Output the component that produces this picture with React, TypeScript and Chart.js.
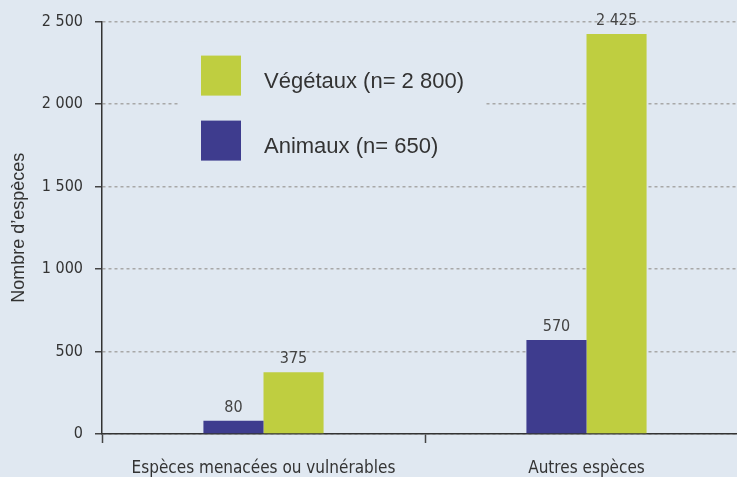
import React, { useEffect, useRef } from "react";
import { Chart, registerables } from "chart.js";

Chart.register(...registerables);

const categories = ["Espèces menacées ou vulnérables", "Autres espèces"];
const animaux = [80, 570];
const vegetaux = [375, 2425];
const seriesLabels = ["Animaux (n= 650)", "Végétaux (n= 2 800)"];
const yTicks = [0, 500, 1000, 1500, 2000, 2500];
const yTitle = "Nombre d’espèces";

const BG = "#e0e8f1";
const BLUE = "#3e3c8e";
const GREEN = "#bfce40";
const TEXT = "#333333";
const NARROW = "'Liberation Sans Narrow', 'DejaVu Sans Condensed', 'Liberation Sans', sans-serif";
const REGULAR = "'Liberation Sans', Arial, sans-serif";

const fmt = (v: number) => {
  const s = String(Math.round(v));
  return s.replace(/\B(?=(\d{3})+(?!\d))/g, " ");
};

const bgPlugin = {
  id: "bg",
  beforeDraw(chart: any) {
    const ctx = chart.ctx;
    ctx.save();
    ctx.fillStyle = BG;
    ctx.fillRect(0, 0, chart.width, chart.height);
    ctx.restore();
  },
};

const legendPlugin = {
  id: "customLegend",
  beforeDatasetsDraw(chart: any) {
    const ctx = chart.ctx;
    const a = chart.chartArea;
    const x0 = a.left + 76;
    ctx.save();
    ctx.fillStyle = BG;
    ctx.fillRect(x0, a.top + 20, 307, 132);
    const items = [
      { color: GREEN, label: seriesLabels[1], y: a.top + 34 },
      { color: BLUE, label: seriesLabels[0], y: a.top + 99 },
    ];
    ctx.font = "22px " + REGULAR;
    ctx.textBaseline = "alphabetic";
    ctx.textAlign = "left";
    for (const it of items) {
      ctx.fillStyle = it.color;
      ctx.fillRect(x0 + 23, it.y, 40, 40);
      ctx.fillStyle = TEXT;
      ctx.fillText(it.label, x0 + 86, it.y + 32);
    }
    ctx.restore();
  },
};

const valuePlugin = {
  id: "values",
  afterDatasetsDraw(chart: any) {
    const ctx = chart.ctx;
    ctx.save();
    ctx.font = "16px " + NARROW;
    ctx.fillStyle = "#444444";
    ctx.textAlign = "center";
    ctx.textBaseline = "middle";
    chart.data.datasets.forEach((ds: any, i: number) => {
      const meta = chart.getDatasetMeta(i);
      meta.data.forEach((el: any, j: number) => {
        ctx.fillText(fmt(ds.data[j]), el.x, el.y - 13);
      });
    });
    ctx.restore();
  },
};

export default function App() {
  const ref = useRef<HTMLCanvasElement | null>(null);

  useEffect(() => {
    document.body.style.overflow = "hidden";
    document.body.style.margin = "0";
    const canvas = ref.current!;
    const chart = new Chart(canvas, {
      type: "bar",
      data: {
        labels: categories,
        datasets: [
          {
            label: seriesLabels[0],
            data: animaux,
            backgroundColor: BLUE,
            categoryPercentage: 0.372,
            barPercentage: 1,
          },
          {
            label: seriesLabels[1],
            data: vegetaux,
            backgroundColor: GREEN,
            categoryPercentage: 0.372,
            barPercentage: 1,
          },
        ],
      },
      options: {
        animation: false,
        responsive: false,
        devicePixelRatio: 1,
        layout: { padding: { left: 0, top: 20, right: 12, bottom: 0 } },
        plugins: {
          legend: { display: false },
          tooltip: { enabled: false },
        },
        scales: {
          x: {
            offset: true,
            grid: {
              display: true,
              drawOnChartArea: false,
              drawTicks: true,
              tickLength: 9,
              tickColor: "#444444",
              tickWidth: 1.5,
              offset: true,
            },
            border: { display: true, color: "#333333", width: 1.5 },
            ticks: {
              color: TEXT,
              font: { family: NARROW, size: 17 },
              padding: 15,
              maxRotation: 0,
            },
            afterFit: (s: any) => {
              s.height = 43;
            },
          },
          y: {
            min: 0,
            max: 2500,
            afterBuildTicks: (s: any) => {
              s.ticks = yTicks.map((v) => ({ value: v }));
            },
            grid: {
              color: "#a8a8a8",
              lineWidth: 1.5,
              drawTicks: true,
              tickLength: 7,
              tickColor: "#444444",
              tickWidth: 1.5,
            },
            border: { display: true, color: "#333333", width: 1.5, dash: [3, 3] },
            ticks: {
              color: TEXT,
              font: { family: NARROW, size: 16 },
              padding: 12,
              callback: (v: any) => fmt(Number(v)),
            },
            title: {
              display: true,
              text: yTitle,
              color: TEXT,
              font: { family: REGULAR, size: 18 },
              padding: { top: 8, bottom: 0 },
            },
            afterFit: (s: any) => {
              s.width = 102;
            },
          },
        },
      },
      plugins: [bgPlugin, legendPlugin, valuePlugin],
    });
    return () => chart.destroy();
  }, []);

  return (
    <div style={{ position: "absolute", left: 0, top: 0, width: 760, height: 477, overflow: "hidden" }}>
      <canvas ref={ref} width={760} height={477} style={{ display: "block" }} />
    </div>
  );
}
